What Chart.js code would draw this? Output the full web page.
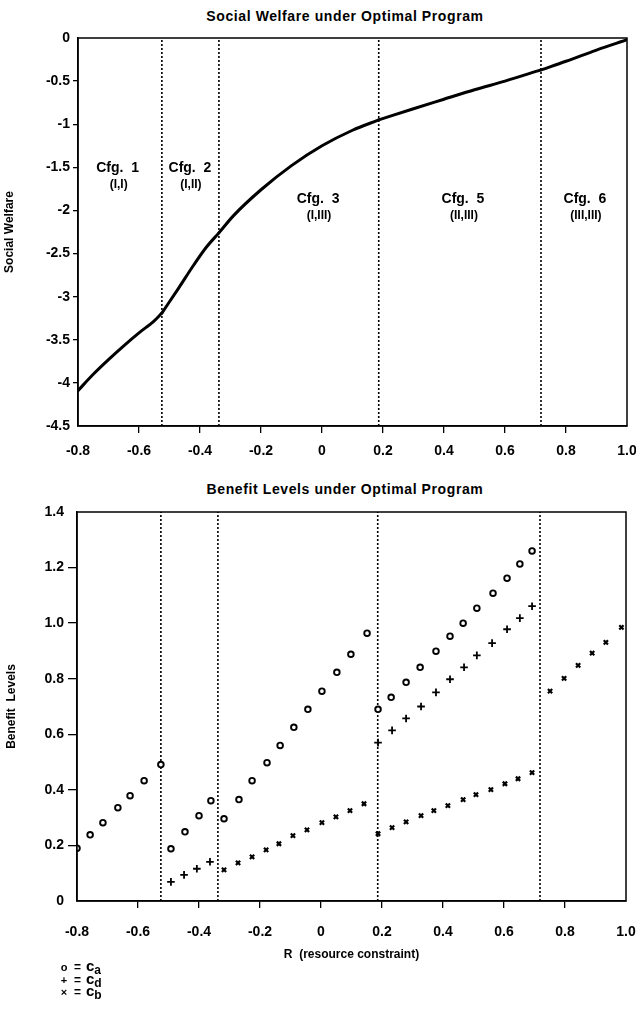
<!DOCTYPE html>
<html>
<head>
<meta charset="utf-8">
<script src="https://cdn.jsdelivr.net/npm/chart.js@4.4.0/dist/chart.umd.min.js"></script>
<style>
  body { margin: 0; background: #fff; }
  #wrap { position: relative; width: 636px; height: 1013px; font-family: "Liberation Sans", Arial, sans-serif; color: #000; }
  .title { position: absolute; left: 0; width: 690px; text-align: center; font-size: 14px; font-weight: bold; letter-spacing: 0.6px; }
  canvas { position: absolute; left: 0; }
  #legend { position: absolute; left: 58px; top: 960px; font-weight: bold; }
  #legend div { height: 12.5px; line-height: 12.5px; white-space: nowrap; }
  #legend .sym { display: inline-block; width: 12px; text-align: center; font-size: 11px; }
  #legend .eq { font-size: 12px; margin: 0 5px 0 4px; }
  #legend .c { font-size: 15px; }
  #legend sub { font-size: 12px; line-height: 0; vertical-align: -3px; }
</style>
</head>
<body>
<div id="wrap">
  <div class="title" style="top:8px">Social Welfare under Optimal Program</div>
  <canvas id="welfare" width="636" height="470" style="top:0"></canvas>
  <div class="title" style="top:481px">Benefit Levels under Optimal Program</div>
  <canvas id="benefit" width="636" height="543" style="top:470px"></canvas>
  <div id="legend">
    <div><span class="sym">o</span><span class="eq">=</span><span class="c">c</span><sub>a</sub></div>
    <div><span class="sym">+</span><span class="eq">=</span><span class="c">c</span><sub>d</sub></div>
    <div><span class="sym">×</span><span class="eq">=</span><span class="c">c</span><sub>b</sub></div>
  </div>
</div>

<script>
/*---------------- dados ----------------*/

// curva de bem-estar social (R, SW)
const rWelfare = [-0.8, -0.75, -0.7, -0.65, -0.6, -0.55, -0.525, -0.47, -0.42, -0.38, -0.338, -0.29, -0.2, -0.1, 0, 0.1, 0.186, 0.3, 0.4, 0.5, 0.6, 0.718, 0.8, 0.9, 1.0];
const welfare = [-4.09, -3.9, -3.73, -3.57, -3.42, -3.28, -3.19, -2.9, -2.63, -2.43, -2.26, -2.06, -1.76, -1.48, -1.25, -1.07, -0.95, -0.82, -0.71, -0.6, -0.5, -0.37, -0.27, -0.14, -0.02];

// limites entre as configurações
const boundaries = [-0.525, -0.338, 0.186, 0.718];
const cfgNames = ["Cfg.  1", "Cfg.  2", "Cfg.  3", "Cfg.  5", "Cfg.  6"];
const cfgTypes = ["(I,I)", "(I,II)", "(I,III)", "(II,III)", "(III,III)"];

// c_a (circulos)
const rA = [-0.8, -0.757, -0.715, -0.666, -0.626, -0.58, -0.525, -0.492, -0.446, -0.4, -0.361, -0.318, -0.269, -0.226, -0.177, -0.134, -0.089, -0.043, 0.003, 0.052, 0.098, 0.151, 0.187, 0.23, 0.279, 0.325, 0.377, 0.423, 0.466, 0.511, 0.564, 0.61, 0.652, 0.692];
const cA = [0.19, 0.238, 0.282, 0.336, 0.379, 0.433, 0.491, 0.188, 0.249, 0.307, 0.361, 0.296, 0.365, 0.433, 0.498, 0.56, 0.625, 0.69, 0.755, 0.823, 0.888, 0.964, 0.69, 0.733, 0.787, 0.841, 0.899, 0.953, 1.0, 1.054, 1.108, 1.162, 1.213, 1.26];

// c_d (cruzes +)
const rD = [-0.492, -0.449, -0.407, -0.364, 0.187, 0.233, 0.279, 0.328, 0.377, 0.423, 0.469, 0.511, 0.561, 0.61, 0.652, 0.692];
const cD = [0.069, 0.094, 0.116, 0.141, 0.57, 0.614, 0.657, 0.7, 0.751, 0.798, 0.841, 0.884, 0.928, 0.978, 1.018, 1.061];

// c_b (x)
const rB = [-0.318, -0.272, -0.226, -0.18, -0.138, -0.092, -0.046, 0.003, 0.049, 0.095, 0.141, 0.187, 0.233, 0.279, 0.328, 0.37, 0.416, 0.466, 0.508, 0.557, 0.603, 0.646, 0.692, 0.751, 0.797, 0.843, 0.889, 0.934, 0.985];
const cB = [0.112, 0.137, 0.159, 0.184, 0.206, 0.235, 0.256, 0.282, 0.303, 0.325, 0.35, 0.242, 0.264, 0.285, 0.307, 0.325, 0.343, 0.365, 0.383, 0.401, 0.422, 0.44, 0.462, 0.755, 0.801, 0.848, 0.892, 0.931, 0.985];

const xTicks = [-0.8, -0.6, -0.4, -0.2, 0, 0.2, 0.4, 0.6, 0.8, 1.0];

/*---------------- helpers ----------------*/

const FONT = '"Liberation Sans", Arial, sans-serif';
const pts = (xs, ys) => xs.map((x, i) => ({ x: x, y: ys[i] }));

// separa a curva em trechos nos limites (cada trecho suave, quina no limite)
function segments(xs, ys) {
  const out = [[]];
  xs.forEach((x, i) => {
    out[out.length - 1].push({ x: x, y: ys[i] });
    if (i > 0 && i < xs.length - 1 && boundaries.some(b => Math.abs(b - x) < 1e-6)) {
      out.push([{ x: x, y: ys[i] }]);
    }
  });
  return out;
}

function vline(b, y0, y1) {
  return { data: [{ x: b, y: y0 }, { x: b, y: y1 }], showLine: true, borderColor: '#000',
    borderWidth: 1.6, borderDash: [2, 2], pointRadius: 0 };
}

// moldura em volta da área do gráfico
const frame = {
  id: 'frame',
  afterDraw(chart) {
    const { ctx, chartArea: a } = chart;
    ctx.save();
    ctx.strokeStyle = '#000';
    ctx.lineWidth = 1.5;
    ctx.strokeRect(a.left, a.top, a.right - a.left, a.bottom - a.top);
    ctx.restore();
  }
};

// rótulos "Cfg." no gráfico de cima
const cfgAt = [[-0.67, -1.51], [-0.433, -1.51], [-0.013, -1.87], [0.462, -1.87], [0.862, -1.87]];
const cfgText = {
  id: 'cfgText',
  afterDatasetsDraw(chart) {
    const { ctx, scales } = chart;
    ctx.save();
    ctx.fillStyle = '#000';
    ctx.textAlign = 'center';
    ctx.textBaseline = 'middle';
    cfgAt.forEach((p, i) => {
      const x = scales.x.getPixelForValue(p[0]);
      const y = scales.y.getPixelForValue(p[1]);
      ctx.font = 'bold 14px ' + FONT;
      ctx.fillText(cfgNames[i], x, y);
      ctx.font = 'bold 12px ' + FONT;
      ctx.fillText(cfgTypes[i], x + 1, y + 16);
    });
    ctx.restore();
  }
};

function xScale(pad, height) {
  return {
    type: 'linear', min: -0.8, max: 1.0,
    afterBuildTicks: s => { s.ticks = xTicks.map(v => ({ value: v })); },
    ticks: { color: '#000', font: { family: FONT, size: 14, weight: 'bold' }, padding: pad, maxRotation: 0, autoSkip: false,
      callback: v => Math.abs(v) < 1e-9 ? '0' : v.toFixed(1) },
    grid: { drawOnChartArea: false, tickLength: 7, lineWidth: 1.3,
      color: c => (c.tick && (Math.abs(c.tick.value + 0.8) < 1e-6 || Math.abs(c.tick.value - 1) < 1e-6)) ? 'rgba(0,0,0,0)' : '#000' },
    border: { color: '#000', width: 1.5 },
    afterFit: s => { s.height = height; s.paddingLeft = 0; s.paddingRight = 0; }
  };
}

function yGrid(min, max, len) {
  return { drawOnChartArea: false, tickLength: len, lineWidth: 1.3,
    color: c => (c.tick && (Math.abs(c.tick.value - min) < 1e-6 || Math.abs(c.tick.value - max) < 1e-6)) ? 'rgba(0,0,0,0)' : '#000' };
}

/*---------------- gráfico de cima ----------------*/

new Chart(document.getElementById('welfare'), {
  type: 'scatter',
  data: {
    datasets: [
      ...segments(rWelfare, welfare).map(seg => ({ data: seg, showLine: true, borderColor: '#000', borderWidth: 3,
        pointRadius: 0, cubicInterpolationMode: 'monotone', borderCapStyle: 'round' })),
      ...boundaries.map(b => vline(b, -4.5, 0))
    ]
  },
  options: {
    responsive: false, animation: false,
    layout: { padding: { top: 38, right: 9, bottom: 0, left: 0 } },
    plugins: { legend: { display: false }, tooltip: { enabled: false } },
    scales: {
      x: xScale(10, 44),
      y: {
        min: -4.5, max: 0,
        ticks: { stepSize: 0.5, color: '#000', font: { family: FONT, size: 14, weight: 'bold' }, padding: 3,
          callback: v => String(Math.round(v * 10) / 10) },
        grid: yGrid(-4.5, 0, 5),
        border: { color: '#000', width: 1.5 },
        title: { display: true, text: 'Social Welfare', color: '#000', font: { family: FONT, size: 12, weight: 'bold' }, padding: 2 },
        afterFit: s => { s.width = 78; s.paddingTop = 0; s.paddingBottom = 0; }
      }
    }
  },
  plugins: [frame, cfgText]
});

/*---------------- gráfico de baixo ----------------*/

new Chart(document.getElementById('benefit'), {
  type: 'scatter',
  data: {
    datasets: [
      { data: pts(rA, cA), pointStyle: 'circle', pointRadius: 2.8, pointBorderWidth: 1.9, pointBackgroundColor: '#fff', pointBorderColor: '#000' },
      { data: pts(rD, cD), pointStyle: 'cross', pointRadius: 3.8, pointBorderWidth: 1.8, pointBorderColor: '#000' },
      { data: pts(rB, cB), pointStyle: 'crossRot', pointRadius: 3, pointBorderWidth: 2.2, pointBorderColor: '#000' },
      ...boundaries.map(b => vline(b, 0, 1.4))
    ]
  },
  options: {
    responsive: false, animation: false,
    layout: { padding: { top: 42, right: 10, bottom: 47, left: 0 } },
    plugins: { legend: { display: false }, tooltip: { enabled: false } },
    scales: {
      x: Object.assign(xScale(16, 65), {
        title: { display: true, text: 'R  (resource constraint)', color: '#000', font: { family: FONT, size: 12, weight: 'bold' }, padding: 4 }
      }),
      y: {
        min: 0, max: 1.4,
        ticks: { stepSize: 0.2, color: '#000', font: { family: FONT, size: 14, weight: 'bold' }, padding: 4,
          callback: v => Math.abs(v) < 1e-9 ? '0' : v.toFixed(1) },
        grid: yGrid(0, 1.4, 9),
        border: { color: '#000', width: 1.5 },
        title: { display: true, text: 'Benefit  Levels', color: '#000', font: { family: FONT, size: 12, weight: 'bold' }, padding: 4 },
        afterFit: s => { s.width = 77; s.paddingTop = 0; s.paddingBottom = 0; }
      }
    }
  },
  plugins: [frame]
});
</script>
</body>
</html>
